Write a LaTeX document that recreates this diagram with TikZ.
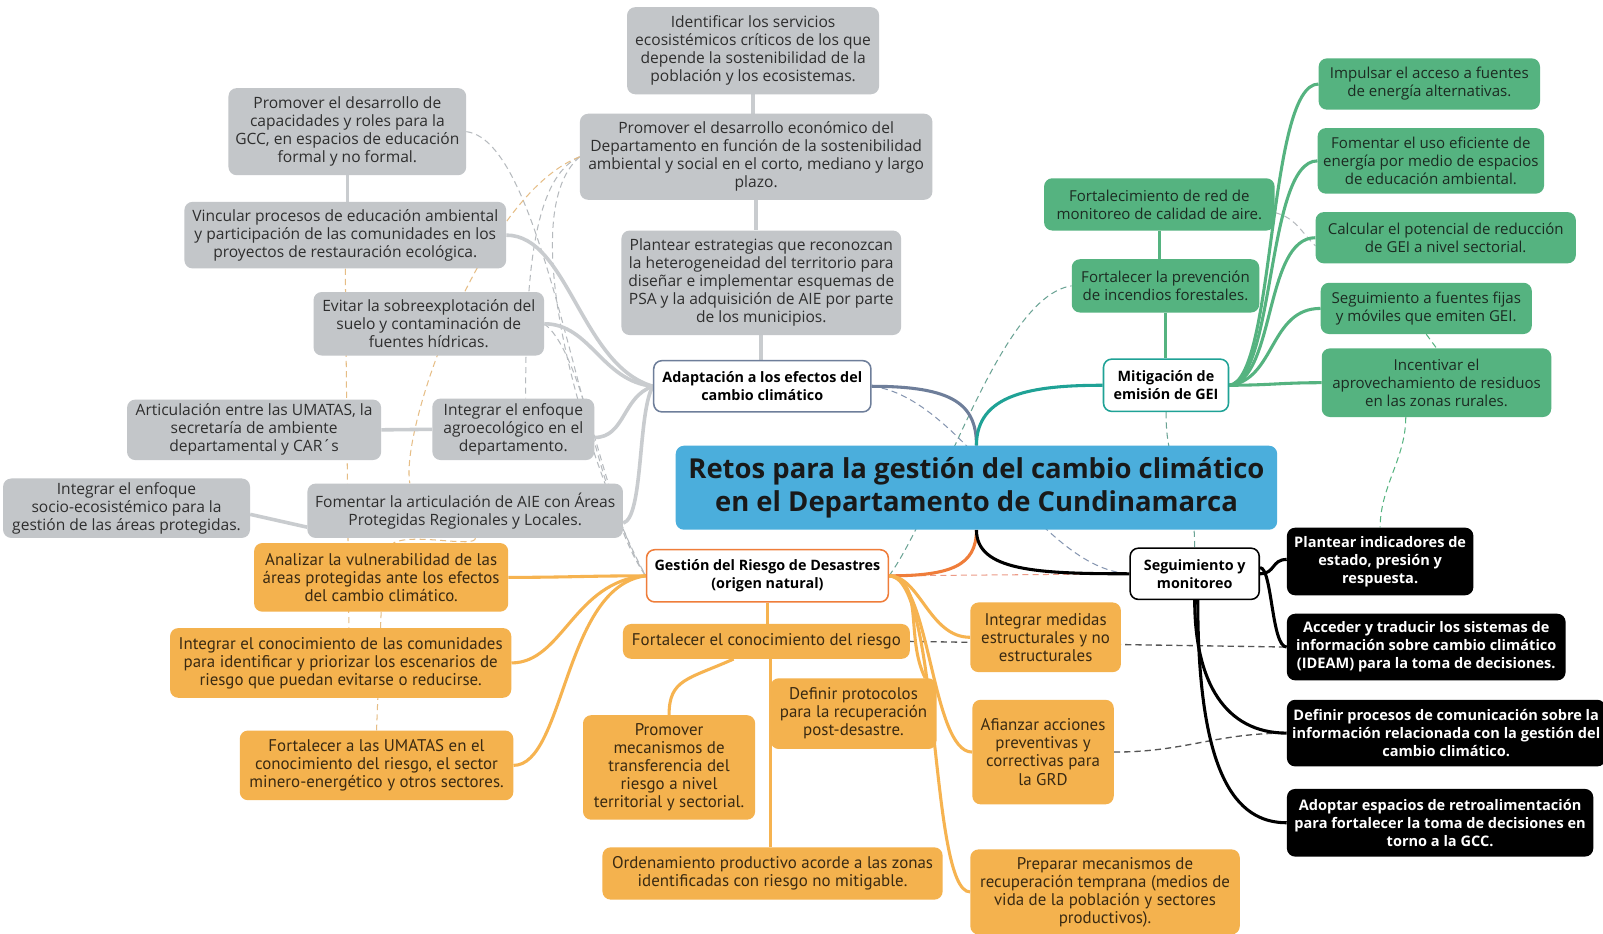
\documentclass[tikz,border=0pt]{standalone}
\usepackage{fontspec}
\setmainfont{Open Sans}
\newfontfamily\condfont{PT Sans}
\usetikzlibrary{backgrounds}
\definecolor{grayfill}{HTML}{C3C6C9}
\definecolor{graytext}{HTML}{2E2E2E}
\definecolor{graylink}{HTML}{C9CCCF}
\definecolor{greenfill}{HTML}{55B380}
\definecolor{greentext}{HTML}{1C2B22}
\definecolor{greenlink}{HTML}{55B380}
\definecolor{orangefill}{HTML}{F4B24E}
\definecolor{orangetext}{HTML}{3A2A12}
\definecolor{orangelink}{HTML}{F6B350}
\definecolor{bluefill}{HTML}{4BAEDC}
\definecolor{adaplink}{HTML}{6E7E9A}
\definecolor{mitlink}{HTML}{1FA296}
\definecolor{gestlink}{HTML}{EF7D3A}
\definecolor{dashgray}{HTML}{B6BABE}
\definecolor{dashbeige}{HTML}{E6BD85}
\definecolor{dashdark}{HTML}{555555}
\definecolor{dashteal}{HTML}{6AA394}
\definecolor{dashblue}{HTML}{8595B0}
\definecolor{dashsalmon}{HTML}{EC9A86}
\tikzset{
  base/.style={rounded corners=8pt, align=center, inner sep=2pt, font=\fontsize{15.2}{17.6}\selectfont},
  gbox/.style={base, fill=grayfill, text=graytext},
  grbox/.style={base, fill=greenfill, text=greentext, font=\fontsize{14.7}{17.6}\selectfont},
  obox/.style={base, fill=orangefill, text=orangetext, font=\condfont\fontsize{16.5}{17.6}\selectfont},
  kbox/.style={base, fill=black, text=white, font=\bfseries\fontsize{14.2}{17.6}\selectfont},
  branch/.style={base, fill=white, text=black, line width=1.5pt, font=\bfseries\fontsize{14}{17.6}\selectfont},
  centre/.style={rounded corners=8pt, align=center, fill=bluefill, text=black!90, font=\bfseries\fontsize{26.8}{32}\selectfont},
  gl/.style={draw=graylink, line width=3.5pt},
  grl/.style={draw=greenlink, line width=3pt},
  ol/.style={draw=orangelink, line width=3pt},
  kl/.style={draw=black, line width=3pt},
  dl/.style={dash pattern=on 6pt off 4pt, line width=1pt},
}
\begin{document}
\begin{tikzpicture}[x=1pt,y=-1pt]
\useasboundingbox (0,0) rectangle (1564.5,910.6);

% central
\node[centre, minimum width=587, minimum height=82] (cen) at (953,476) {Retos para la gestión del cambio climático\\en el Departamento de Cundinamarca};

% branches
\node[branch, draw=adaplink, minimum width=212, minimum height=50] (ad) at (744,377) {Adaptación a los efectos del\\cambio climático};
\node[branch, draw=mitlink, minimum width=122, minimum height=51] (mit) at (1138,376) {Mitigación de\\emisión de GEI};
\node[branch, draw=gestlink, minimum width=236, minimum height=51] (ge) at (749,562) {Gestión del Riesgo de Desastres\\(origen natural)};
\node[branch, draw=black, minimum width=126, minimum height=50] (seg) at (1166,560) {Seguimiento y\\monitoreo};

% gray nodes
\node[gbox, minimum width=246, minimum height=85] (ide) at (735,49.5) {Identificar los servicios\\ecosistémicos críticos de los que\\depende la sostenibilidad de la\\población y los ecosistemas.};
\node[gbox, minimum width=344, minimum height=84] (pe) at (738,153) {Promover el desarrollo económico del\\Departamento en función de la sostenibilidad\\ambiental y social en el corto, mediano y largo\\plazo.};
\node[gbox, minimum width=273, minimum height=102] (plan) at (743,276) {Plantear estrategias que reconozcan\\la heterogeneidad del territorio para\\diseñar e implementar esquemas de\\PSA y la adquisición de AIE por parte\\de los municipios.};
\node[gbox, minimum width=232, minimum height=85] (cap) at (339,128.5) {Promover el desarrollo de\\capacidades y roles para la\\GCC, en espacios de educación\\formal y no formal.};
\node[gbox, minimum width=314, minimum height=65] (vin) at (337,229.5) {Vincular procesos de educación ambiental\\y participación de las comunidades en los\\proyectos de restauración ecológica.};
\node[gbox, minimum width=225, minimum height=62] (ev) at (418.5,316) {Evitar la sobreexplotación del\\suelo y contaminación de\\fuentes hídricas.};
\node[gbox, minimum width=248, minimum height=59] (art) at (248,419.5) {Articulación entre las UMATAS, la\\secretaría de ambiente\\departamental y CAR´s};
\node[gbox, minimum width=158, minimum height=60] (agro) at (501,419) {Integrar el enfoque\\agroecológico en el\\departamento.};
\node[gbox, minimum width=241, minimum height=58] (soc) at (123.5,496) {Integrar el enfoque\\socio-ecosistémico para la\\gestión de las áreas protegidas.};
\node[gbox, minimum width=308, minimum height=53] (fom) at (454,498.5) {Fomentar la articulación de AIE con Áreas\\Protegidas Regionales y Locales.};

% green nodes
\node[grbox, minimum width=225, minimum height=51] (fr) at (1131.5,199.5) {Fortalecimiento de red de\\monitoreo de calidad de aire.};
\node[grbox, minimum width=183, minimum height=52] (fp) at (1137.5,279) {Fortalecer la prevención\\de incendios forestales.};
\node[grbox, minimum width=216, minimum height=50] (imp) at (1395,82) {Impulsar el acceso a fuentes\\de energía alternativas.};
\node[grbox, minimum width=221, minimum height=64] (feu) at (1396.5,157) {Fomentar el uso eficiente de\\energía por medio de espacios\\de educación ambiental.};
\node[grbox, minimum width=254, minimum height=50] (cal) at (1411,232) {Calcular el potencial de reducción\\de GEI a nivel sectorial.};
\node[grbox, minimum width=206, minimum height=50] (sf) at (1392,301) {Seguimiento a fuentes fijas\\y móviles que emiten GEI.};
\node[grbox, minimum width=224, minimum height=67] (inc) at (1402,373.5) {Incentivar el\\aprovechamiento de residuos\\en las zonas rurales.};

% black nodes
\node[kbox, minimum width=182, minimum height=66] (pi) at (1347,548) {Plantear indicadores de\\estado, presión y\\respuesta.};
\node[kbox, minimum width=272, minimum height=65] (acc) at (1392,631.5) {Acceder y traducir los sistemas de\\información sobre cambio climático\\(IDEAM) para la toma de decisiones.};
\node[kbox, minimum width=311, minimum height=65] (dp) at (1411.5,715.5) {Definir procesos de comunicación sobre la\\información relacionada con la gestión del\\cambio climático.};
\node[kbox, minimum width=299, minimum height=66] (ado) at (1405.5,803) {Adoptar espacios de retroalimentación\\para fortalecer la toma de decisiones en\\torno a la GCC.};

% orange nodes
\node[obox, minimum width=248, minimum height=67] (an) at (372,563.5) {Analizar la vulnerabilidad de las\\áreas protegidas ante los efectos\\del cambio climático.};
\node[obox, minimum width=333, minimum height=68] (ic) at (332.5,647) {Integrar el conocimiento de las comunidades\\para identificar y priorizar los escenarios de\\riesgo que puedan evitarse o reducirse.};
\node[obox, minimum width=267, minimum height=68] (fu) at (367.5,747) {Fortalecer a las UMATAS en el\\conocimiento del riesgo, el sector\\minero-energético y otros sectores.};
\node[obox, minimum width=280, minimum height=34] (fck) at (748,626) {Fortalecer el conocimiento del riesgo};
\node[obox, minimum width=168, minimum height=102] (pm) at (653,749) {Promover\\mecanismos de\\transferencia del\\riesgo a nivel\\territorial y sectorial.};
\node[obox, minimum width=162, minimum height=69] (dpr) at (833,696.5) {Definir protocolos\\para la recuperación\\post-desastre.};
\node[obox, minimum width=332, minimum height=51] (ord) at (754,852.5) {Ordenamiento productivo acorde a las zonas\\identificadas con riesgo no mitigable.};
\node[obox, minimum width=147, minimum height=68] (im) at (1020.5,622) {Integrar medidas\\estructurales y no\\estructurales};
\node[obox, minimum width=138, minimum height=102] (af) at (1018,734) {Afianzar acciones\\preventivas y\\correctivas para\\la GRD};
\node[obox, minimum width=263, minimum height=83] (prep) at (1078.5,870.5) {Preparar mecanismos de\\recuperación temprana (medios de\\vida de la población y sectores\\productivos).};

\begin{pgfonlayer}{background}
\fill[white] (0,0) rectangle (1564.5,910.6);
% dashed cross links
\draw[dl, draw=dashdark, line width=1.3pt] (fck.east) -- (acc.west);
\draw[dl, draw=dashdark, line width=1.3pt] (af.east) .. controls +(70,0) and +(-70,0) .. (dp.west);
\draw[dl, draw=dashsalmon] (ge.east) -- (seg.west);
\draw[dl, draw=dashteal] (ge.east) .. controls +(50,-70) and +(-70,10) .. (fp.west);
\draw[dl, draw=dashblue] (ad.east) .. controls +(90,10) and +(-90,-5) .. (seg.west);
\draw[dl, draw=dashteal] (mit.south) .. controls +(0,70) and +(0,-70) .. (seg.north);
\draw[dl, draw=greenlink] ([xshift=-30]inc.south) .. controls +(0,40) and +(0,-40) .. (pi.north);
\draw[dl, draw=dashgray] ([yshift=-8]fr.east) .. controls +(20,5) and +(-15,-15) .. ([yshift=-8]cal.west);
\draw[dl, draw=greenlink] (sf.south) -- (inc.north);
\draw[dl, draw=dashgray] (cap.east) .. controls +(80,10) and +(-60,-80) .. (ge.west);
\draw[dl, draw=dashgray] (pe.west) .. controls +(-45,20) and +(0,-120) .. ([xshift=12]agro.north);
\draw[dl, draw=dashgray] (pe.west) .. controls +(-70,60) and +(-50,-90) .. (ge.west);
\draw[dl, draw=dashgray] (ev.east) .. controls +(40,30) and +(-40,-60) .. (ge.west);
\draw[dl, draw=dashbeige] (pe.west) .. controls (470,190) and (390,420) .. ([xshift=-54]fom.north);
\draw[dl, draw=dashbeige] ([xshift=10]fom.south) .. controls +(0,10) and +(20,-10) .. ([xshift=12]an.north);
\draw[dl, draw=dashbeige] (vin.south) -- ([xshift=8]ic.north);
\draw[dl, draw=dashbeige] (an.south) -- (fu.north);

% main links
\draw[draw=adaplink, line width=3pt] (ad.east) .. controls +(80,0) and +(0,-40) .. (cen.north);
\draw[draw=mitlink, line width=3pt] (cen.north) .. controls +(0,-50) and +(-70,0) .. (mit.west);
\draw[draw=gestlink, line width=3pt] (cen.south) .. controls +(0,35) and +(60,0) .. (ge.east);
\draw[draw=black, line width=3pt] (cen.south) .. controls +(0,40) and +(-90,0) .. (seg.west);

% gray links
\draw[gl] (ide.south) -- (ide.south |- pe.north);
\draw[gl] (pe.south) -- (pe.south |- plan.north);
\draw[gl] (plan.south) -- (plan.south |- ad.north);
\draw[gl] (cap.south) -- (cap.south |- vin.north);
\draw[gl] (vin.east) .. controls +(60,0) and +(-70,-20) .. (ad.west);
\draw[gl] (ev.east) .. controls +(45,0) and +(-50,-5) .. (ad.west);
\draw[gl] ([yshift=-8]agro.east) .. controls +(30,0) and +(-30,10) .. (ad.west);
\draw[gl] ([yshift=-12]fom.east) .. controls +(20,-5) and +(-15,25) .. (ad.west);
\draw[gl] (art.east) -- (agro.west);
\draw[gl] ([yshift=-6]soc.east) -- ([yshift=-16]fom.west);

% green links
\draw[grl, line width=3.5pt] (fr.south) -- (fr.south |- fp.north);
\draw[grl, line width=3.5pt] (fp.south) -- (fp.south |- mit.north);
\foreach \n in {imp,feu,cal,sf}
  \draw[grl] (mit.east) .. controls +(45,-5) and +(-50,0) .. (\n.west);
\draw[grl] (mit.east) .. controls +(40,0) and +(-40,0) .. (inc.west);

% black links
\draw[kl] (seg.east) .. controls +(15,0) and +(-15,0) .. ([yshift=2]pi.west);
\draw[kl] ([yshift=6]seg.east) .. controls +(12,0) and +(-15,0) .. (acc.west);
\draw[kl] (seg.south) .. controls +(0,80) and +(-60,0) .. (dp.west);
\draw[kl] ([xshift=3]seg.south) .. controls +(0,170) and +(-50,0) .. (ado.west);

% orange links
\draw[ol] (ge.west) .. controls +(-60,0) and +(60,0) .. (an.east);
\draw[ol] (ge.west) .. controls +(-70,5) and +(50,0) .. (ic.east);
\draw[ol] (ge.west) .. controls +(-80,10) and +(50,0) .. (fu.east);
\draw[ol, line width=3.5pt] (ge.south) -- (ge.south |- fck.north);
\draw[ol] ([xshift=4]fck.south) -- ([xshift=4]fck.south |- ord.north);
\draw[ol] ([xshift=-32]fck.south) .. controls +(-45,20) and +(0,-35) .. (pm.north);
\draw[ol] (ge.east) .. controls +(30,0) and +(-40,0) .. (im.west);
\draw[ol] (ge.east) .. controls +(35,5) and +(-20,-40) .. ([xshift=70]dpr.north);
\draw[ol] (ge.east) .. controls +(40,0) and +(-40,0) .. (af.west);
\draw[ol] (ge.east) .. controls +(50,0) and +(-40,0) .. (prep.west);
\end{pgfonlayer}
\end{tikzpicture}
\end{document}
